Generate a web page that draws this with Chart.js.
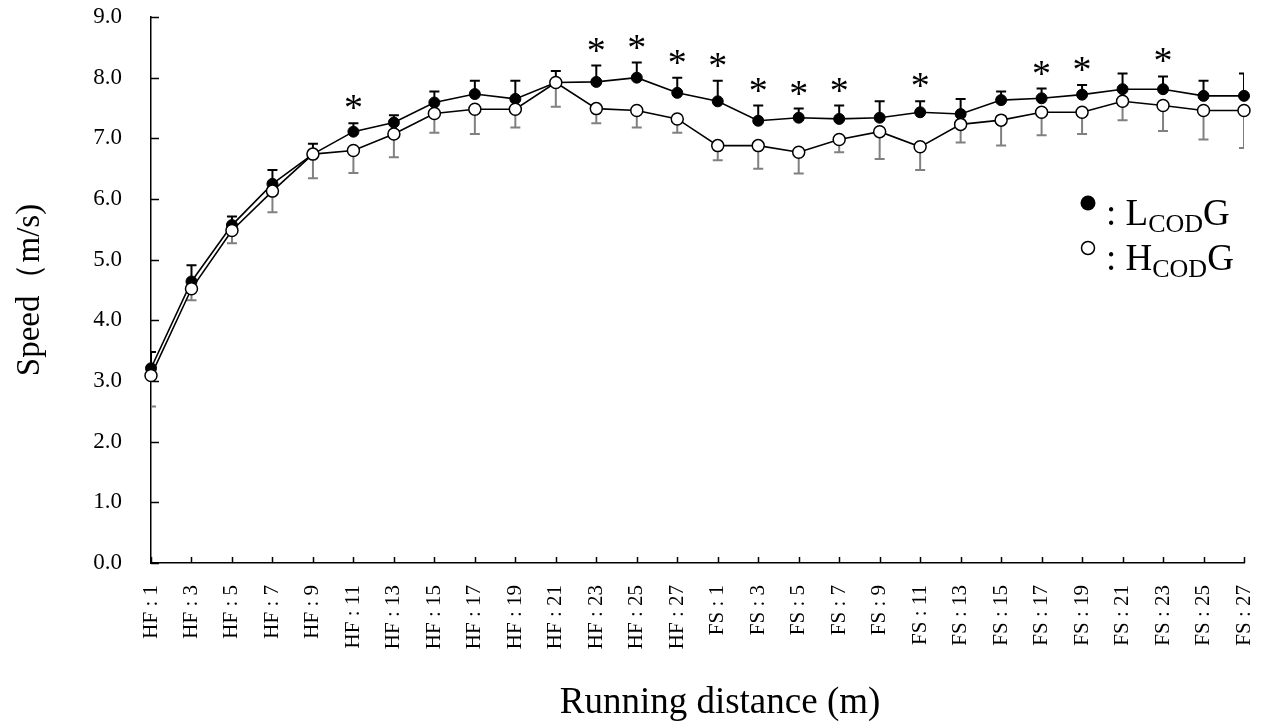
<!DOCTYPE html>
<html>
<head>
<meta charset="utf-8">
<script src="https://cdn.jsdelivr.net/npm/chart.js@4.4.1/dist/chart.umd.min.js"></script>
<style>
  html, body { margin: 0; padding: 0; background: #fff; }
  #wrap { width: 1275px; height: 722px; }
</style>
</head>
<body>
<div id="wrap"><canvas id="speedChart" width="1275" height="722"></canvas></div>
<script>
const distances = [
    'HF : 1', 'HF : 3', 'HF : 5', 'HF : 7', 'HF : 9', 'HF : 11', 'HF : 13',
    'HF : 15', 'HF : 17', 'HF : 19', 'HF : 21', 'HF : 23', 'HF : 25', 'HF : 27',
    'FS : 1', 'FS : 3', 'FS : 5', 'FS : 7', 'FS : 9', 'FS : 11', 'FS : 13',
    'FS : 15', 'FS : 17', 'FS : 19', 'FS : 21', 'FS : 23', 'FS : 25', 'FS : 27'
];

// L_COD G (filled markers), mean and SD
const lcodMean = [3.21, 4.64, 5.57, 6.25, 6.74, 7.11, 7.26, 7.59, 7.73, 7.65, 7.92, 7.93, 8.00, 7.75,
                  7.61, 7.29, 7.34, 7.32, 7.34, 7.43, 7.40, 7.63, 7.66, 7.72, 7.81, 7.81, 7.70, 7.70];
const lcodSd = [0.27, 0.27, 0.14, 0.23, 0.17, 0.14, 0.12, 0.18, 0.22, 0.30, 0.19, 0.27, 0.25, 0.25,
                0.34, 0.25, 0.15, 0.22, 0.27, 0.18, 0.25, 0.14, 0.16, 0.16, 0.26, 0.21, 0.25, 0.37];

// H_COD G (open markers), mean and SD
const hcodMean = [3.09, 4.52, 5.48, 6.13, 6.74, 6.80, 7.07, 7.41, 7.48, 7.48, 7.92, 7.49, 7.46, 7.32,
                  6.88, 6.88, 6.77, 6.98, 7.11, 6.86, 7.23, 7.30, 7.43, 7.43, 7.61, 7.54, 7.46, 7.46];
const hcodSd = [0.51, 0.19, 0.21, 0.35, 0.40, 0.37, 0.38, 0.32, 0.41, 0.30, 0.40, 0.24, 0.28, 0.23,
                0.24, 0.38, 0.35, 0.21, 0.45, 0.38, 0.30, 0.42, 0.38, 0.36, 0.31, 0.42, 0.48, 0.62];

// significant difference between groups
const significant = [0, 0, 0, 0, 0, 1, 0, 0, 0, 0, 0, 1, 1, 1,
                     1, 1, 1, 1, 0, 1, 0, 0, 1, 1, 0, 1, 0, 0];

const yTicks = [0, 1, 2, 3, 4, 5, 6, 7, 8, 9];
const xTitle = 'Running distance (m)';

const serif = "'Liberation Serif', 'Times New Roman', serif";

const overlay = {
    id: 'overlay',
    beforeDatasetsDraw(chart) {
        const { ctx, chartArea, scales: { x, y } } = chart;

        // inward tick marks
        ctx.save();
        ctx.strokeStyle = '#000';
        ctx.lineWidth = 1.5;
        ctx.beginPath();
        yTicks.forEach(v => {
            const py = Math.round(y.getPixelForValue(v)) + 0.5;
            ctx.moveTo(chartArea.left, py);
            ctx.lineTo(chartArea.left + 8, py);
        });
        distances.forEach((d, i) => {
            const px = Math.round(x.getPixelForValue(i)) + 0.5;
            ctx.moveTo(px, chartArea.bottom);
            ctx.lineTo(px, chartArea.bottom - 6);
        });
        ctx.stroke();
        ctx.restore();

        // error bars
        ctx.save();
        ctx.beginPath();
        ctx.rect(chartArea.left, 0, chartArea.right - chartArea.left, chart.height);
        ctx.clip();
        ctx.lineWidth = 2;
        const cap = 5;
        ctx.strokeStyle = '#808080';
        ctx.beginPath();
        hcodMean.forEach((m, i) => {
            const px = x.getPixelForValue(i);
            const y0 = y.getPixelForValue(m);
            const y1 = y.getPixelForValue(m - hcodSd[i]);
            ctx.moveTo(px, y0);
            ctx.lineTo(px, y1);
            ctx.moveTo(px - cap, y1);
            ctx.lineTo(px + cap, y1);
        });
        ctx.stroke();
        ctx.strokeStyle = '#000';
        ctx.beginPath();
        lcodMean.forEach((m, i) => {
            const px = x.getPixelForValue(i);
            const y0 = y.getPixelForValue(m);
            const y1 = y.getPixelForValue(m + lcodSd[i]);
            ctx.moveTo(px, y0);
            ctx.lineTo(px, y1);
            ctx.moveTo(px - cap, y1);
            ctx.lineTo(px + cap, y1);
        });
        ctx.stroke();
        ctx.restore();
    },
    afterDatasetsDraw(chart) {
        const { ctx, scales: { x, y } } = chart;
        ctx.save();
        ctx.fillStyle = '#000';

        // asterisks
        ctx.font = '38px ' + serif;
        ctx.textAlign = 'center';
        ctx.textBaseline = 'alphabetic';
        significant.forEach((s, i) => {
            if (!s) return;
            const top = y.getPixelForValue(lcodMean[i] + lcodSd[i]);
            ctx.fillText('*', x.getPixelForValue(i), top - 3);
        });

        // x axis title
        ctx.font = '37px ' + serif;
        ctx.fillText(xTitle, 720, 713);

        // legend
        ctx.textAlign = 'left';
        const rows = [
            { letter: 'L', base: 225, cy: 203, r: 7.5, filled: true },
            { letter: 'H', base: 270, cy: 248, r: 6.5, filled: false }
        ];
        rows.forEach(row => {
            ctx.beginPath();
            ctx.arc(1088, row.cy, row.r, 0, Math.PI * 2);
            if (row.filled) {
                ctx.fill();
            } else {
                ctx.lineWidth = 1.5;
                ctx.strokeStyle = '#000';
                ctx.stroke();
            }
            let tx = 1106;
            ctx.font = '37px ' + serif;
            const head = ': ' + row.letter;
            ctx.fillText(head, tx, row.base);
            tx += ctx.measureText(head).width;
            ctx.font = '26px ' + serif;
            ctx.fillText('COD', tx, row.base + 7);
            tx += ctx.measureText('COD').width;
            ctx.font = '37px ' + serif;
            ctx.fillText('G', tx, row.base);
        });
        ctx.restore();
    }
};

new Chart(document.getElementById('speedChart'), {
    type: 'line',
    data: {
        labels: distances,
        datasets: [{
            label: 'HCODG',
            data: hcodMean,
            order: 0,
            borderColor: '#000',
            borderWidth: 1.6,
            backgroundColor: '#fff',
            pointRadius: 6,
            pointBorderWidth: 1.5,
            pointBorderColor: '#000',
            pointBackgroundColor: '#fff',
            tension: 0
        }, {
            label: 'LCODG',
            data: lcodMean,
            order: 1,
            borderColor: '#000',
            borderWidth: 1.6,
            backgroundColor: '#000',
            pointRadius: 5.5,
            pointBorderWidth: 1,
            pointBorderColor: '#000',
            pointBackgroundColor: '#000',
            tension: 0
        }]
    },
    options: {
        responsive: false,
        animation: false,
        events: [],
        layout: {
            padding: { top: 17, right: 31, left: 0, bottom: 0 }
        },
        plugins: {
            legend: { display: false },
            tooltip: { enabled: false }
        },
        scales: {
            x: {
                offset: false,
                grid: { display: false },
                border: { display: true, color: '#000', width: 1.5 },
                ticks: {
                    autoSkip: false,
                    maxRotation: 90,
                    minRotation: 90,
                    padding: 14,
                    color: '#000',
                    font: { family: serif, size: 21 }
                },
                afterFit: scale => {
                    scale.height = 159;
                    scale.paddingLeft = 0;
                    scale.paddingRight = 0;
                }
            },
            y: {
                min: 0,
                max: 9,
                grid: { display: false },
                border: { display: true, color: '#000', width: 1.5 },
                ticks: {
                    stepSize: 1,
                    padding: 21,
                    color: '#000',
                    font: { family: serif, size: 23 },
                    callback: value => value.toFixed(1)
                },
                title: {
                    display: true,
                    text: 'Speed（m/s)',
                    color: '#000',
                    font: { family: serif, size: 33 },
                    padding: { top: 11, bottom: 0 }
                },
                afterFit: scale => {
                    scale.width = 151;
                    scale.paddingTop = 0;
                    scale.paddingBottom = 0;
                }
            }
        }
    },
    plugins: [overlay]
});
</script>
</body>
</html>
